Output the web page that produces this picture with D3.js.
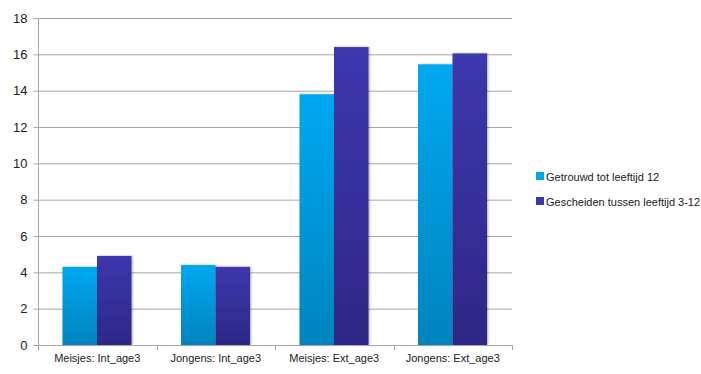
<!DOCTYPE html>
<html><head><meta charset="utf-8">
<script src="https://cdn.jsdelivr.net/npm/d3@7"></script>
<style>body{margin:0;background:#fff}svg{display:block;font-family:"Liberation Sans",Arial,sans-serif}</style>
</head><body><svg id="c" width="701" height="374"></svg>
<script>
const categories = ["Meisjes: Int_age3","Jongens: Int_age3","Meisjes: Ext_age3","Jongens: Ext_age3"];
const seriesNames = ["Getrouwd tot leeftijd 12","Gescheiden tussen leeftijd 3-12"];
const getrouwd = [4.3, 4.4, 13.8, 15.45];
const gescheiden = [4.9, 4.3, 16.4, 16.05];
const yTicks = [0,2,4,6,8,10,12,14,16,18];

const svg = d3.select("#c");
const L=38, R=512, T=18, B=345;
const x = d3.scaleBand().domain(categories).range([L,R]).paddingInner(0).paddingOuter(0);
const y = d3.scaleLinear().domain([0,18]).range([B,T]);
const xs = d3.scaleBand().domain([0,1]).range([0, 69]);

const defs = svg.append("defs");
const grads = [["g0","#00a8f0","#0084be"],["g1","#3d37ae","#2d2885"]];
grads.forEach(([id,a,b])=>{
  const g=defs.append("linearGradient").attr("id",id).attr("x1",0).attr("y1",0).attr("x2",0).attr("y2",1);
  g.append("stop").attr("offset","0%").attr("stop-color",a);
  g.append("stop").attr("offset","100%").attr("stop-color",b);
});
const f=defs.append("filter").attr("id","sh").attr("x","-20%").attr("y","-10%").attr("width","140%").attr("height","120%");
f.append("feGaussianBlur").attr("in","SourceAlpha").attr("stdDeviation",1.2).attr("result","b");
f.append("feOffset").attr("in","b").attr("dx",0.5).attr("dy",0).attr("result","o");
f.append("feComponentTransfer").attr("in","o").attr("result","o2").append("feFuncA").attr("type","linear").attr("slope",0.35);
const m=f.append("feMerge"); m.append("feMergeNode").attr("in","o2"); m.append("feMergeNode").attr("in","SourceGraphic");

// gridlines
svg.append("g").selectAll("line").data(yTicks.filter(d=>d>0)).join("line")
  .attr("x1",L).attr("x2",R).attr("y1",d=>y(d)+0.5).attr("y2",d=>y(d)+0.5)
  .attr("stroke","#a6a6a6").attr("stroke-width",1);

// y axis
const ya = svg.append("g").attr("transform",`translate(${L+0.5},0)`)
  .call(d3.axisLeft(y).tickValues(yTicks).tickSize(5).tickPadding(6));
ya.select(".domain").attr("stroke","#a6a6a6").attr("d",`M0,${T}V${B}`);
ya.selectAll(".tick line").attr("stroke","#a6a6a6");
ya.selectAll("text").attr("font-size",13).attr("fill","#222").attr("font-family","Liberation Sans, Arial, sans-serif");

// bars
const data=[getrouwd,gescheiden];
data.forEach((vals,si)=>{
  svg.append("g").attr("filter","url(#sh)").selectAll("rect").data(vals).join("rect")
    .attr("x",(d,i)=>x(categories[i])+24.5+xs(si))
    .attr("width",xs.bandwidth())
    .attr("y",d=>y(d)).attr("height",d=>B-y(d))
    .attr("fill",`url(#g${si})`);
});

// x axis
const xa = svg.append("g").attr("transform",`translate(0,${B+0.5})`)
  .call(d3.axisBottom(x).tickSize(0).tickPadding(9));
xa.select(".domain").attr("stroke","#a6a6a6").attr("d",`M${L},0H${R}`);
xa.selectAll("text").attr("font-size",11).attr("fill","#222").attr("font-family","Liberation Sans, Arial, sans-serif");
const bounds=[0,1,2,3,4].map(i=>i<4?x(categories[i]):R);
svg.append("g").selectAll("line").data(bounds).join("line")
  .attr("x1",d=>Math.round(d)+0.5).attr("x2",d=>Math.round(d)+0.5).attr("y1",B).attr("y2",B+5)
  .attr("stroke","#a6a6a6");

// legend
const lg = svg.append("g").attr("transform","translate(536,172)");
seriesNames.forEach((n,i)=>{
  const g=lg.append("g").attr("transform",`translate(0,${i*25})`);
  g.append("rect").attr("width",8).attr("height",8).attr("fill",grads[i][1]);
  g.append("text").attr("x",10).attr("y",8.5).attr("font-size",11).attr("fill","#222").text(n);
});
</script></body></html>
